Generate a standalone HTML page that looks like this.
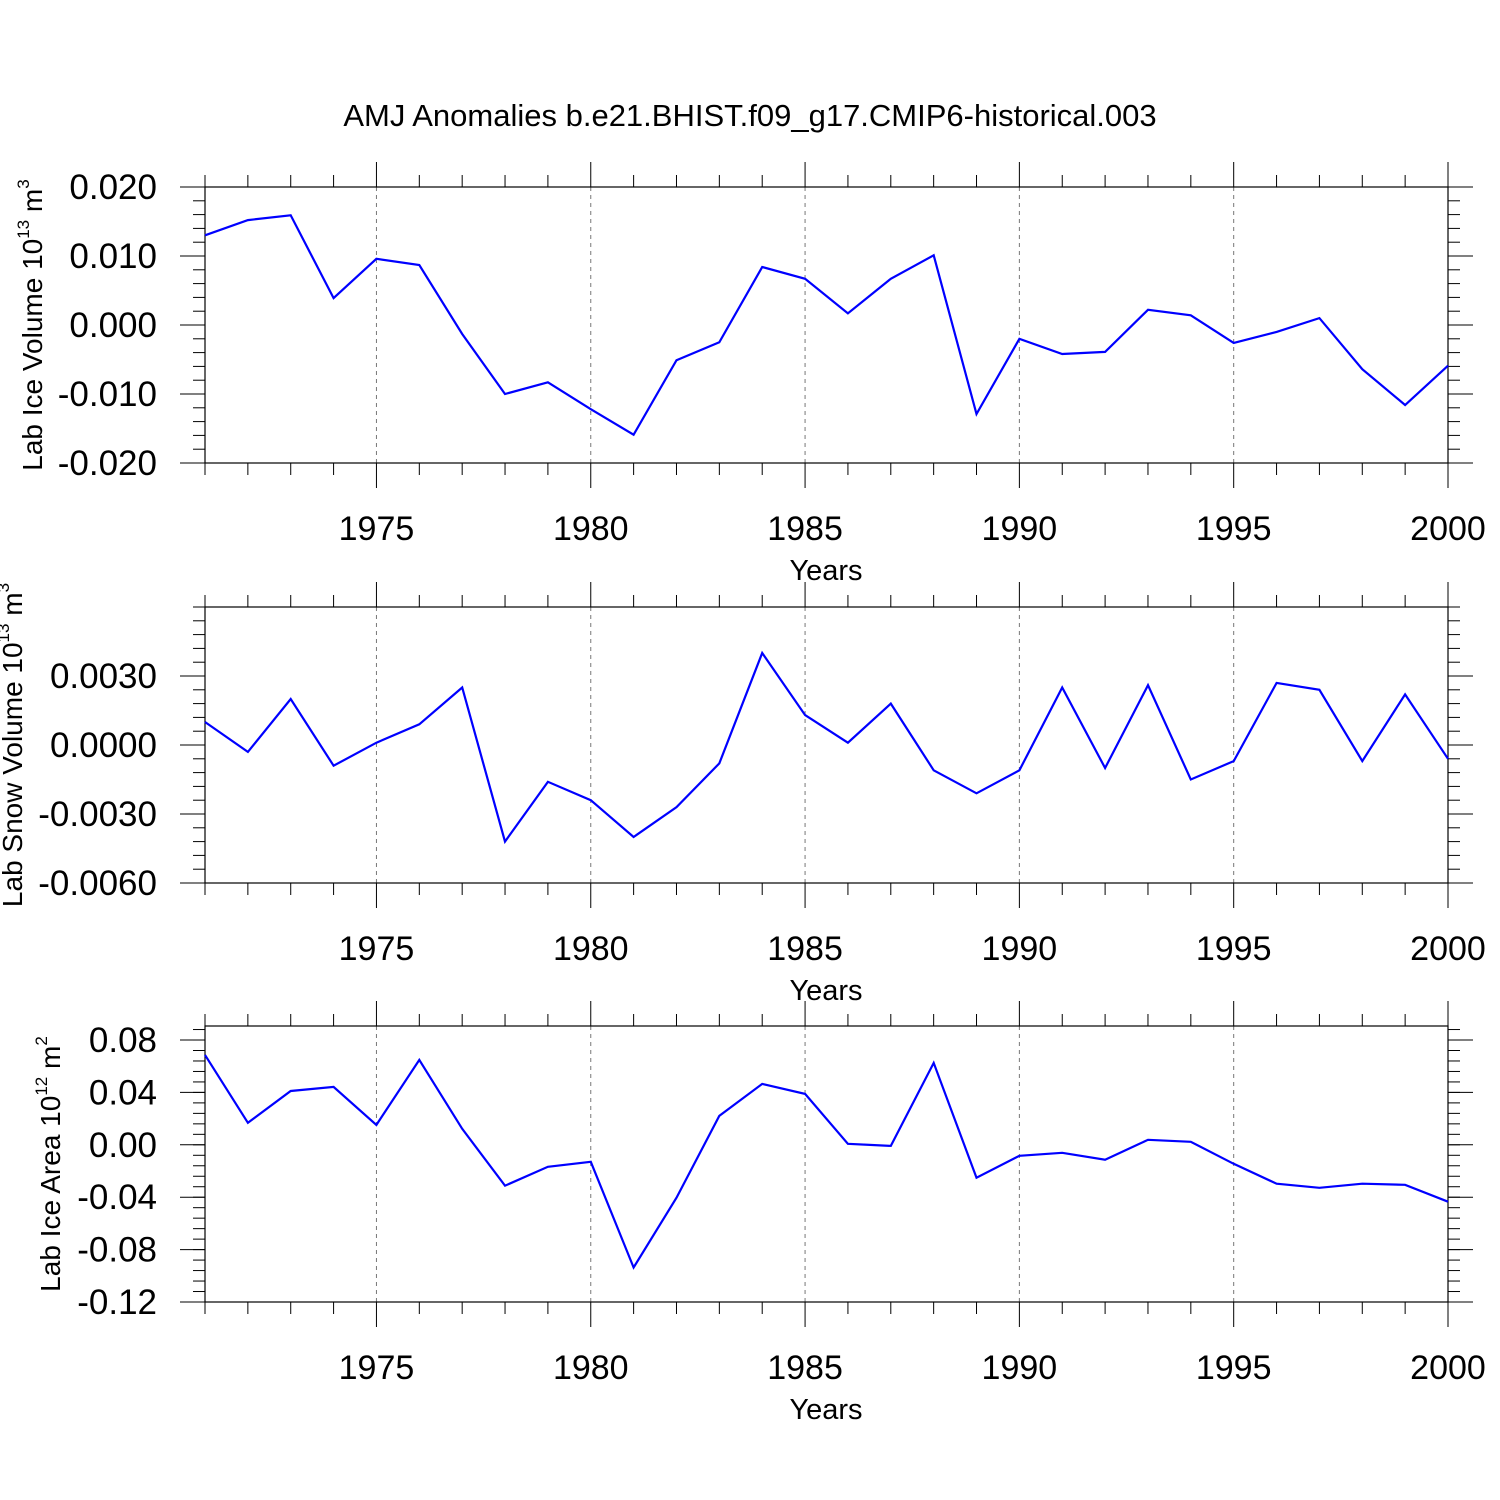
<!DOCTYPE html>
<html><head><meta charset="utf-8"><style>
html,body{margin:0;padding:0;background:#fff;}
svg{display:block;font-family:"Liberation Sans",sans-serif;}
</style></head><body>
<svg id="c" width="1500" height="1500" xmlns="http://www.w3.org/2000/svg">
<text x="750" y="126" font-size="31" text-anchor="middle">AMJ Anomalies b.e21.BHIST.f09_g17.CMIP6-historical.003</text>
</svg>
<script>
const years = [1971,1972,1973,1974,1975,1976,1977,1978,1979,1980,1981,1982,1983,1984,1985,1986,1987,1988,1989,1990,1991,1992,1993,1994,1995,1996,1997,1998,1999,2000];
const iceVol = [0.0130,0.0152,0.0159,0.0039,0.0096,0.0087,-0.0013,-0.0100,-0.0083,-0.0122,-0.0159,-0.0051,-0.0025,0.0084,0.0067,0.0017,0.0067,0.0101,-0.0129,-0.0020,-0.0042,-0.0039,0.0022,0.0014,-0.0026,-0.0010,0.0010,-0.0064,-0.0116,-0.0059];
const snowVol = [0.0010,-0.0003,0.0020,-0.0009,0.0001,0.0009,0.0025,-0.0042,-0.0016,-0.0024,-0.0040,-0.0027,-0.0008,0.0040,0.0013,0.0001,0.0018,-0.0011,-0.0021,-0.0011,0.0025,-0.0010,0.0026,-0.0015,-0.0007,0.0027,0.0024,-0.0007,0.0022,-0.0006];
const iceArea = [0.0686,0.0168,0.0411,0.0442,0.0152,0.0648,0.0122,-0.0312,-0.0168,-0.0130,-0.0937,-0.0404,0.0221,0.0465,0.0389,0.0008,-0.0008,0.0625,-0.0251,-0.0084,-0.0061,-0.0114,0.0038,0.0023,-0.0145,-0.0297,-0.0328,-0.0297,-0.0305,-0.0434];
const xTicks = [1975,1980,1985,1990,1995,2000];
const ticks1 = [0.020,0.010,0.000,-0.010,-0.020];
const labels1 = ["0.020","0.010","0.000","-0.010","-0.020"];
const ticks2 = [0.0030,0.0000,-0.0030,-0.0060];
const labels2 = ["0.0030","0.0000","-0.0030","-0.0060"];
const ticks3 = [0.08,0.04,0.00,-0.04,-0.08,-0.12];
const labels3 = ["0.08","0.04","0.00","-0.04","-0.08","-0.12"];

const svg = document.getElementById('c');
const NS = 'http://www.w3.org/2000/svg';
function mk(tag, attrs, parent){const e=document.createElementNS(NS,tag);for(const k in attrs)e.setAttribute(k,attrs[k]);(parent||svg).appendChild(e);return e;}
const X0=205, X1=1448;
function xs(y){return X0+(y-1971)/(2000-1971)*(X1-X0);}

function panel(cfg){
  const g=mk('g',{});
  
  
  const T=cfg.top,B=T+276;
  const ys=v=>T+(cfg.vmax-v)/(cfg.vmax-cfg.vmin)*(B-T);
  xTicks.forEach(yr=>{ if(yr<2000) mk('line',{x1:xs(yr),x2:xs(yr),y1:T,y2:B,stroke:'#777','stroke-width':1,'stroke-dasharray':'4,4'},g); });
  const fr=mk('rect',{x:X0,y:T,width:X1-X0,height:B-T,fill:'none',stroke:'#000','stroke-width':1.2},g);
  
  
  years.forEach(yr=>{
    const maj=xTicks.includes(yr), x=xs(yr), l=maj?25:12;
    mk('line',{x1:x,x2:x,y1:T,y2:T-l,stroke:'#000','stroke-width':1},g);
    mk('line',{x1:x,x2:x,y1:B,y2:B+l,stroke:'#000','stroke-width':1},g);
  });
  xTicks.forEach(yr=>{
    const t=mk('text',{x:xs(yr),y:B+77,'font-size':34,'text-anchor':'middle'},g);
    t.textContent=yr;
    
    
  });
  const xt=mk('text',{x:826,y:B+117,'font-size':29,'text-anchor':'middle'},g);
  xt.textContent='Years';
  
  
  const step=(cfg.ticks[0]-cfg.ticks[1])/5;
  for(let v=cfg.ticks[cfg.ticks.length-1]; v<=cfg.vmax+1e-9; v+=step){
    const y=ys(v); if(y<T-0.5||y>B+0.5) continue;
    mk('line',{x1:X0-12,x2:X0,y1:y,y2:y,stroke:'#000','stroke-width':1},g);
    mk('line',{x1:X1,x2:X1+12,y1:y,y2:y,stroke:'#000','stroke-width':1},g);
  }
  cfg.ticks.forEach((v,i)=>{
    const y=ys(v);
    mk('line',{x1:X0-25,x2:X0,y1:y,y2:y,stroke:'#000','stroke-width':1},g);
    mk('line',{x1:X1,x2:X1+25,y1:y,y2:y,stroke:'#000','stroke-width':1},g);
    const t=mk('text',{x:157,y:y+12,'font-size':35,'text-anchor':'end'},g);
    t.textContent=cfg.labels[i];
    
    
  });
  const yt=mk('text',{x:0,y:0,'font-size':28,'text-anchor':'middle',transform:`translate(${cfg.tx},${(T+B)/2}) rotate(-90)`},g);
  yt.innerHTML=cfg.title+' 10<tspan font-size="17" dy="-13">'+cfg.exp+'</tspan><tspan dy="13"> m</tspan><tspan font-size="17" dy="-13">'+cfg.pw+'</tspan>';
  
  
  const pts=cfg.data.map((v,i)=>xs(years[i]).toFixed(1)+','+ys(v).toFixed(1)).join(' ');
  const pl=mk('polyline',{points:pts,fill:'none',stroke:'#0000ff','stroke-width':2.2,'stroke-linejoin':'miter'},g);
  
  
}
panel({name:'ice-volume-panel',top:187,vmax:0.020,vmin:-0.020,ticks:ticks1,labels:labels1,data:iceVol,title:'Lab Ice Volume',exp:'13',pw:'3',tx:42});
panel({name:'snow-volume-panel',top:607,vmax:0.006,vmin:-0.006,ticks:ticks2,labels:labels2,data:snowVol,title:'Lab Snow Volume',exp:'13',pw:'3',tx:22});
panel({name:'ice-area-panel',top:1026,vmax:0.0907,vmin:-0.12,ticks:ticks3,labels:labels3,data:iceArea,title:'Lab Ice Area',exp:'12',pw:'2',tx:60});
</script>
</body></html>
